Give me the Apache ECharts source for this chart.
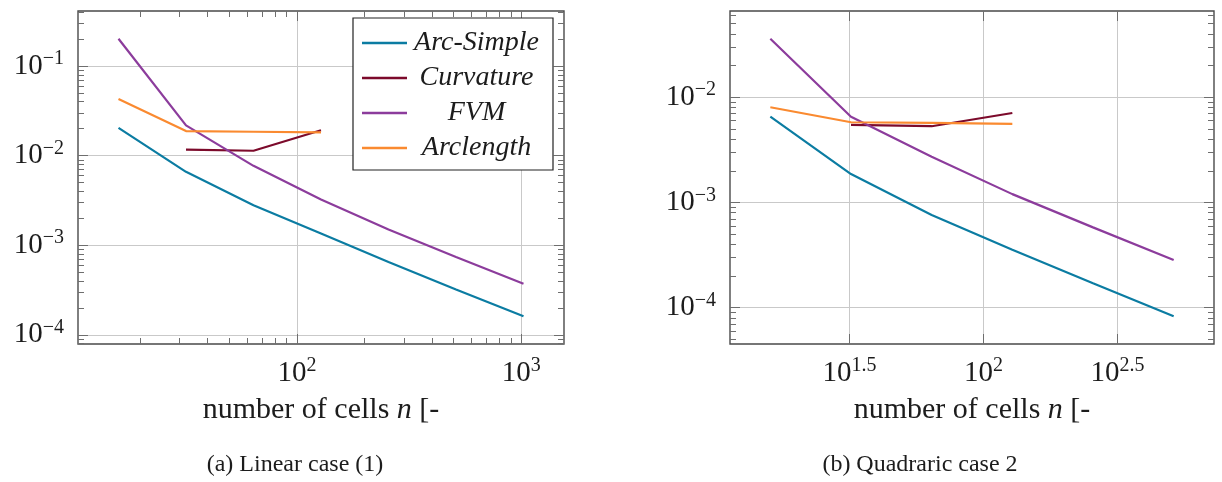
<!DOCTYPE html>
<html><head><meta charset="utf-8">
<script src="https://cdn.jsdelivr.net/npm/echarts@6/dist/echarts.min.js"></script>
<style>html,body{margin:0;padding:0;background:#fff}#c{width:1222px;height:482px}</style>
</head><body><div id="c"></div>
<script>
// ---------- data ----------
const seriesNames = ['Arc-Simple', 'Curvature', 'FVM', 'Arclength'];
const seriesColors = ['#0b7ca2', '#7c0a2b', '#8c3c9c', '#fa8a30'];

// (a) Linear case
const cellsA = [16, 32, 64, 128, 256, 512, 1024];
const arcSimpleA = [0.0204, 0.0066, 0.0028, 0.00135, 0.00065, 0.00032, 0.000161];
const curvatureA = [null, 0.01165, 0.01135, 0.0192, null, null, null];
const fvmA = [0.202, 0.0218, 0.0077, 0.00324, 0.0015, 0.00074, 0.000372];
const arclengthA = [0.043, 0.0188, 0.0185, 0.0182, null, null, null];

// (b) Quadratic case
const cellsB = [16, 32, 64, 128, 256, 512];
const arcSimpleB = [0.00653, 0.00186, 0.00076, 0.000355, 0.000171, 0.000083];
const curvatureB = [null, 0.00545, 0.0053, 0.00708, null, null];
const fvmB = [0.0359, 0.00653, 0.00272, 0.0012, 0.00058, 0.000284];
const arclengthB = [0.00803, 0.00578, 0.00569, 0.00557, null, null];

// tick values (labelled)
const xTicksA = [100, 1000];
const yTicksA = [1e-4, 1e-3, 1e-2, 1e-1];
const xTicksB = [Math.pow(10, 1.5), 100, Math.pow(10, 2.5)];
const yTicksB = [1e-4, 1e-3, 1e-2];

const captions = ['(a) Linear case (1)', '(b) Quadraric case 2'];

// ---------- helpers ----------
const FONT = 'Liberation Serif';
const TXT = '#1c1c1c';

function logRange(vals) {
  const l = vals.filter(v => v != null).map(Math.log10);
  const lo = Math.min(...l), hi = Math.max(...l), r = hi - lo;
  return [Math.pow(10, lo - 0.1 * r), Math.pow(10, hi + 0.1 * r)];
}
function minorTicks(range) {
  const out = [];
  for (let d = Math.floor(Math.log10(range[0])); d <= Math.ceil(Math.log10(range[1])); d++) {
    for (let m = 2; m <= 9; m++) {
      const v = m * Math.pow(10, d);
      if (v >= range[0] && v <= range[1]) out.push(v);
    }
  }
  return out;
}
function supFmt(v) {
  const e = Math.round(Math.log10(v) * 10) / 10;
  const s = (e < 0 ? '\u2212' : '') + Math.abs(e);
  return '{b|10}{s|' + s + '}';
}
const richLab = {
  b: { fontSize: 29, fontFamily: FONT, color: TXT, lineHeight: 34 },
  s: { fontSize: 20, fontFamily: FONT, color: TXT, lineHeight: 20, verticalAlign: 'top' }
};
const tickColor = '#6e6e6e';

function axis(gi, range, pos, vals, len, extra) {
  return Object.assign({
    type: 'log', logBase: 10, gridIndex: gi, min: range[0], max: range[1], position: pos,
    axisLine: { show: false },
    axisTick: { show: vals.length > 0, inside: true, length: len, customValues: vals.length ? vals : [range[0]],
      lineStyle: { color: tickColor, width: 1 } },
    axisLabel: { show: false },
    splitLine: { show: false }, minorTick: { show: false }, minorSplitLine: { show: false }
  }, extra || {});
}

const panels = [
  { cells: cellsA, ys: [arcSimpleA, curvatureA, fvmA, arclengthA], xTicks: xTicksA, yTicks: yTicksA,
    xMinor: true, grid: { left: 78, top: 11, width: 486, height: 333 }, capX: 295 },
  { cells: cellsB, ys: [arcSimpleB, curvatureB, fvmB, arclengthB], xTicks: xTicksB, yTicks: yTicksB,
    xMinor: false, grid: { left: 730, top: 11, width: 484, height: 333 }, capX: 920 }
];

const grids = [], xAxes = [], yAxes = [], series = [];
panels.forEach((p, gi) => {
  grids.push(Object.assign({ show: true, borderColor: '#4a4a4a', borderWidth: 1.4, backgroundColor: 'transparent' }, p.grid));
  const xr = logRange(p.cells);
  const yr = logRange([].concat(...p.ys));
  const xMin = p.xMinor ? minorTicks(xr) : [];
  const yMin = minorTicks(yr);
  const splitStyle = { show: true, lineStyle: { color: '#c9c9c9', width: 1 } };
  const mainX = xAxes.length;
  xAxes.push(axis(gi, xr, 'bottom', p.xTicks, 10, {
    axisLabel: { show: true, customValues: p.xTicks, formatter: supFmt, rich: richLab, margin: 12 },
    splitLine: splitStyle,
    name: '{r|number of cells }{i|n}{r| [-}', nameLocation: 'middle', nameGap: 51,
    nameTextStyle: { rich: {
      r: { fontSize: 30, fontFamily: FONT, color: TXT },
      i: { fontSize: 30, fontFamily: FONT, fontStyle: 'italic', color: TXT } } }
  }));
  xAxes.push(axis(gi, xr, 'top', p.xTicks, 10));
  xAxes.push(axis(gi, xr, 'bottom', xMin, 6));
  xAxes.push(axis(gi, xr, 'top', xMin, 6));
  const mainY = yAxes.length;
  yAxes.push(axis(gi, yr, 'left', p.yTicks, 10, {
    axisLabel: { show: true, customValues: p.yTicks, formatter: supFmt, rich: richLab, margin: 14 },
    splitLine: splitStyle
  }));
  yAxes.push(axis(gi, yr, 'right', p.yTicks, 10));
  yAxes.push(axis(gi, yr, 'left', yMin, 6));
  yAxes.push(axis(gi, yr, 'right', yMin, 6));

  seriesNames.forEach((name, si) => {
    const data = [];
    p.cells.forEach((c, k) => { const v = p.ys[si][k]; if (v != null) data.push([c, v]); });
    series.push({
      type: 'line', name, xAxisIndex: mainX, yAxisIndex: mainY, data,
      symbol: 'none', showSymbol: false, color: seriesColors[si],
      lineStyle: { color: seriesColors[si], width: 2.2 }, z: 3, animation: false
    });
  });
});

const chart = echarts.init(document.getElementById('c'), null, { renderer: 'canvas' });
chart.setOption({
  animation: false,
  backgroundColor: '#ffffff',
  grid: grids,
  xAxis: xAxes,
  yAxis: yAxes,
  series,
  legend: {
    data: seriesNames.map(n => ({ name: n, icon: 'rect' })),
    orient: 'vertical',
    left: 353, top: 18,
    padding: [11, 12, 8, 9],
    itemGap: 7,
    itemWidth: 45, itemHeight: 2.6,
    backgroundColor: '#ffffff',
    borderColor: '#222', borderWidth: 1.2, borderRadius: 0,
    selectedMode: false,
    formatter: n => '{t|' + n + '}',
    textStyle: { rich: { t: { width: 129, align: 'center', fontSize: 28, fontFamily: FONT,
      fontStyle: 'italic', color: TXT, lineHeight: 28 } } }
  },
  graphic: captions.map((t, i) => ({
    type: 'text', x: panels[i].capX, y: 465,
    style: { text: t, font: '24px "Liberation Serif"', fill: TXT, align: 'center', verticalAlign: 'middle' }
  }))
});
</script></body></html>
